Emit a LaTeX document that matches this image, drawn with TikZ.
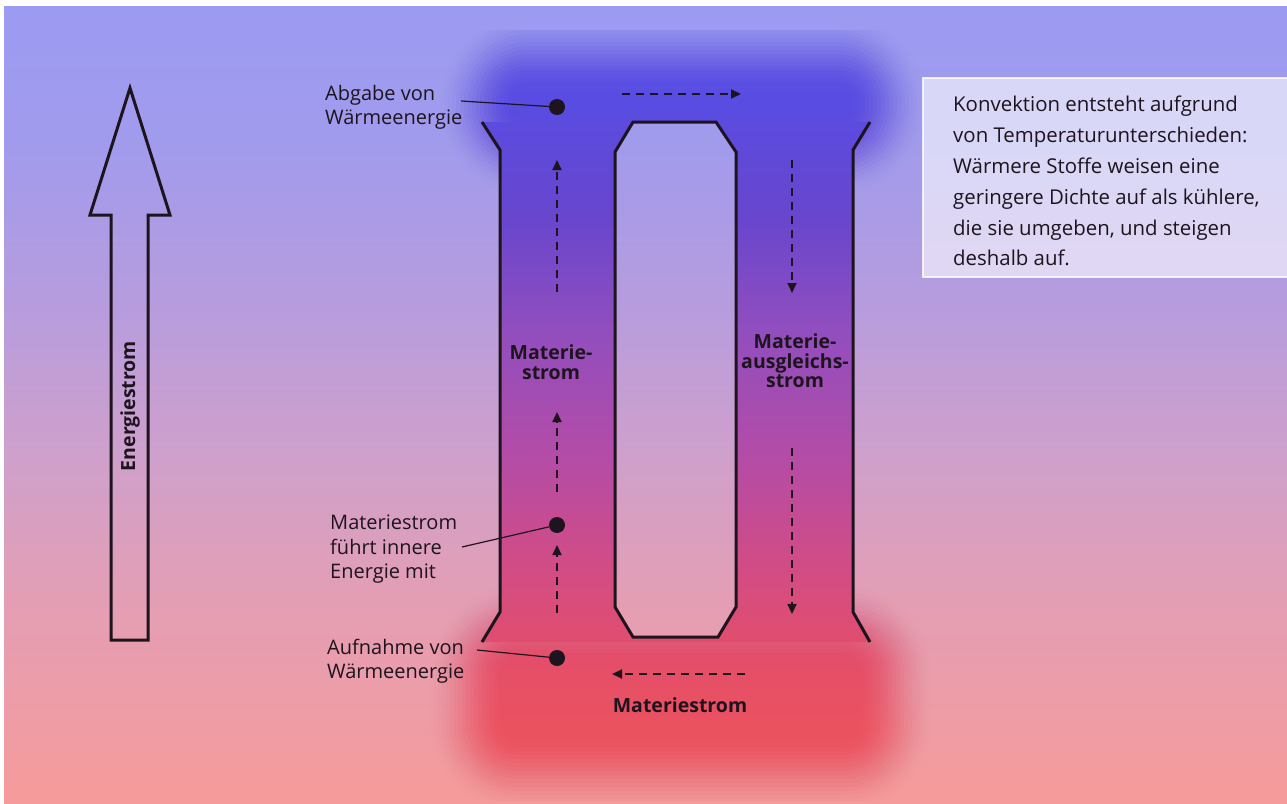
\documentclass[tikz,border=0pt]{standalone}
\usepackage{fontspec}
\setsansfont{Open Sans}
\usetikzlibrary{arrows.meta}

% background colours
\definecolor{bgA}{RGB}{155,155,242}
\definecolor{bgB}{RGB}{162,155,236}
\definecolor{bgC}{RGB}{182,156,222}
\definecolor{bgD}{RGB}{206,160,204}
\definecolor{bgE}{RGB}{228,158,180}
\definecolor{bgF}{RGB}{246,155,155}
% column colours
\definecolor{coA}{RGB}{92,82,228}
\definecolor{coB}{RGB}{88,76,226}
\definecolor{coC}{RGB}{105,70,205}
\definecolor{coD}{RGB}{145,78,190}
\definecolor{coE}{RGB}{178,76,168}
\definecolor{coF}{RGB}{208,76,135}
\definecolor{coG}{RGB}{228,78,105}
\definecolor{coH}{RGB}{235,82,96}
\definecolor{inkc}{RGB}{30,20,30}

\pgfdeclareverticalshading{bgsh}{100bp}{color(0bp)=(bgF); color(25bp)=(bgF);
  color(37.64bp)=(bgE); color(47.08bp)=(bgD); color(56.51bp)=(bgC);
  color(65.94bp)=(bgB); color(75bp)=(bgA); color(100bp)=(bgA)}
\pgfdeclareverticalshading{colsh}{100bp}{color(0bp)=(coH); color(25bp)=(coH);
  color(29.55bp)=(coH); color(34.09bp)=(coG); color(40.58bp)=(coF);
  color(47.73bp)=(coE); color(55.52bp)=(coD); color(62.66bp)=(coC);
  color(70.45bp)=(coB); color(75bp)=(coA); color(100bp)=(coA)}

\begin{document}
\begin{tikzpicture}[x=1pt,y=-1pt,
  wall/.style={line width=3pt, draw=inkc, line join=miter},
  flow/.style={draw=inkc, line width=2pt, dash pattern=on 8pt off 6pt,
     -{Triangle[length=10pt,width=9pt]}},
  dot/.style={circle, fill=inkc, minimum size=16pt, inner sep=0pt},
  leader/.style={draw=inkc, line width=1.2pt},
  lab/.style={font=\sffamily\fontsize{20}{24.3}\selectfont, text=inkc,
     align=left, inner sep=0pt, anchor=north west},
  blab/.style={font=\sffamily\bfseries\fontsize{19.5}{19.5}\selectfont, text=inkc,
     align=center, inner sep=0pt},
  infobox/.style={fill=white, fill opacity=0.6, draw=white, draw opacity=0.8,
     line width=1.5pt, minimum width=380pt, minimum height=199pt,
     anchor=north west, inner sep=0pt},
  infotext/.style={font=\sffamily\fontsize{20.4}{30.8}\selectfont, text=inkc,
     align=left, inner sep=0pt, anchor=north west}
  ]
\useasboundingbox (0,0) rectangle (1287,803);
\fill[white] (0,0) rectangle (1287,803);
\shade[shading=bgsh] (4,6) rectangle (1287,803);

% coloured fluid column (sharp between the walls, blurred above and below)
\begin{scope}[even odd rule]
  \clip (4,6) rectangle (1287,803)
     (633,122) -- (716,122) -- (736,152) -- (736,607) -- (718,637)
     -- (633,637) -- (615,607) -- (615,152) -- cycle;
  \foreach \i in {1,...,20}{
    \pgfmathsetmacro\ta{\i/20}
    \pgfmathsetmacro\tb{(\i-1)/20}
    \pgfmathsetmacro\ca{\ta*\ta*(3-2*\ta)}
    \pgfmathsetmacro\cb{\tb*\tb*(3-2*\tb)}
    \pgfmathsetmacro\op{(\ca-\cb)/(1-\cb)}
    \pgfmathsetmacro\d{4*(\i-1)}
    \pgfmathsetmacro\r{4*(20-\i)+12}
    \begin{scope}[rounded corners=\r pt]
      \clip ({440+\d},{14+\d}) rectangle ({925-\d},{195-\d});
      \shade[shading=colsh, sharp corners, opacity=\op] (400,30) rectangle (960,800);
    \end{scope}
    \begin{scope}[rounded corners=\r pt]
      \clip ({430+\d},{585+\d}) rectangle ({932-\d},{811-\d});
      \shade[shading=colsh, sharp corners, opacity=\op] (400,30) rectangle (960,800);
    \end{scope}
  }
  \begin{scope}
    \clip (482,122) -- (500,150) -- (500,612) -- (482,642) -- (870,642)
       -- (853,612) -- (853,150) -- (870,122) -- cycle;
    \shade[shading=colsh] (400,30) rectangle (960,800);
  \end{scope}
\end{scope}

% walls
\draw[wall] (482,122) -- (500,150) -- (500,612) -- (482,642);
\draw[wall] (870,122) -- (853,150) -- (853,612) -- (870,642);
\draw[wall] (633,122) -- (716,122) -- (736,152) -- (736,607) -- (718,637)
   -- (633,637) -- (615,607) -- (615,152) -- cycle;

% energy arrow
\draw[wall] (111,640) -- (111,215) -- (90,215) -- (130,88) -- (170,215)
   -- (148,215) -- (148,640) -- cycle;
\node[blab, rotate=90] (energie) at (130,406) {Energiestrom};

% dots
\node[dot] (d1) at (557,107) {};
\node[dot] (d2) at (557,525) {};
\node[dot] (d3) at (557,658) {};

% labels
\node[lab] (l1) at (325,85) {Abgabe von\\Wärmeenergie};
\node[lab] (l2) at (330,515) {Materiestrom\\führt innere\\Energie mit};
\node[lab] (l3) at (327,639) {Aufnahme von\\Wärmeenergie};
\coordinate (l1e) at (461,101);
\coordinate (l2e) at (462,547);
\coordinate (l3e) at (477,650);
\draw[leader] (l1e) -- (d1);
\draw[leader] (l2e) -- (d2);
\draw[leader] (l3e) -- (d3);

% flow arrows
\coordinate (a1s) at (557,292); \coordinate (a1e) at (557,160);
\coordinate (a2s) at (557,492); \coordinate (a2e) at (557,412);
\coordinate (a3s) at (557,613); \coordinate (a3e) at (557,545);
\coordinate (a4s) at (622,94);  \coordinate (a4e) at (741,94);
\coordinate (a5s) at (792,160); \coordinate (a5e) at (792,293);
\coordinate (a6s) at (792,448); \coordinate (a6e) at (792,614);
\coordinate (a7s) at (745,674); \coordinate (a7e) at (612,674);
\foreach \a in {1,...,7}{\draw[flow] (a\a s) -- (a\a e);}

\node[blab] (m1) at (551,362) {Materie-\\strom};
\node[blab] (m2) at (795,361) {Materie-\\ausgleichs-\\strom};
\node[blab] (m3) at (680,705) {Materiestrom};

% info box
\node[infobox] (info) at (922,77) {};
\node[infotext] (infotxt) at (953,96) {Konvektion entsteht aufgrund\\von Temperaturunterschieden:\\Wärmere Stoffe weisen eine\\geringere Dichte auf als kühlere,\\die sie umgeben, und steigen\\deshalb auf.};
\end{tikzpicture}
\end{document}
